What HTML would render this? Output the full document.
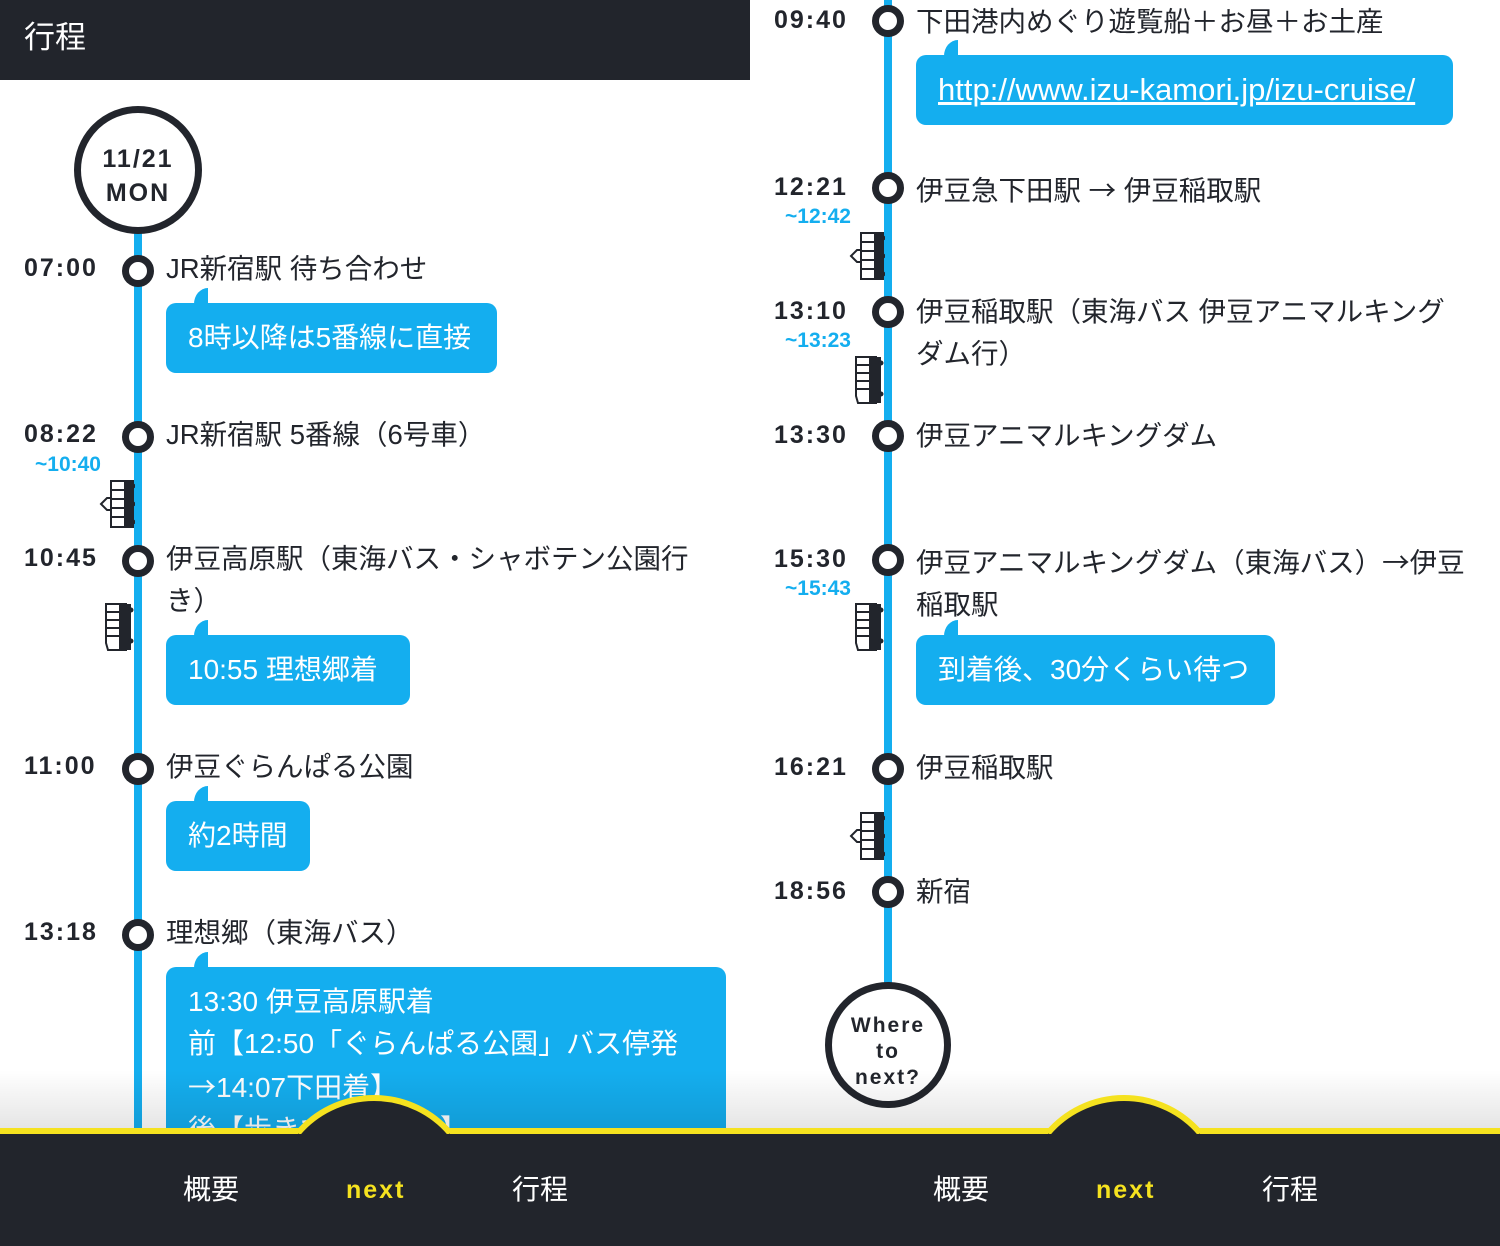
<!DOCTYPE html>
<html><head><meta charset="utf-8"><style>
*{margin:0;padding:0}
body{width:1500px;height:1246px;position:relative;overflow:hidden;background:#fff;font-family:"Liberation Sans","Noto Sans CJK JP",sans-serif;color:#22252c}
.a{position:absolute}
.j{font-family:"Noto Sans CJK JP",sans-serif}
.line{position:absolute;width:8px;background:#14aeef}
.n{position:absolute;width:32px;height:32px;border:7px solid #22252c;border-radius:50%;background:#fff;box-sizing:border-box}
.t{position:absolute;font-weight:bold;font-size:25px;letter-spacing:2px;line-height:30px}
.s{position:absolute;font-weight:bold;font-size:21px;color:#14aeef;line-height:24px}
.l{position:absolute;font-size:27.5px;line-height:42px;white-space:nowrap;color:#22252c}
.b{position:absolute;background:#14aeef;border-radius:10px;color:#fff;font-size:28px;line-height:42px;padding:14px 22px;box-sizing:border-box;white-space:nowrap;overflow:hidden}
.tail{position:absolute;width:14px;height:16px;background:#14aeef;border-top-left-radius:14px 16px}
.c{position:absolute;border:7px solid #22252c;border-radius:50%;background:#fff;box-sizing:border-box;text-align:center;font-weight:bold;letter-spacing:2px}
.nav{position:absolute;top:1128px;width:750px;height:118px;background:#22252c;border-top:6px solid #f5e21f;box-sizing:border-box}
.ni{position:absolute;top:1172px;font-size:28px;color:#fff;line-height:36px}
.nx{position:absolute;top:1172px;font-size:25px;color:#f5e21f;font-weight:bold;letter-spacing:2px;line-height:36px}
.sh{position:absolute;top:1070px;height:58px;width:750px;background:linear-gradient(rgba(0,0,0,0),rgba(0,0,0,0.10))}
</style></head><body>
<svg width="0" height="0" style="position:absolute"><defs>
<symbol id="tr" viewBox="0 0 36 48"><path d="M2 24 L8 18 L12 18 L12 30 L8 30 Z" fill="#fff" stroke="#22252c" stroke-width="2"/><rect x="12" y="1" width="22" height="46" fill="#fff" stroke="#22252c" stroke-width="2"/><rect x="25" y="1" width="9" height="46" fill="#22252c"/><path d="M12 10H25M12 19H25M12 28H25M12 37H25" stroke="#22252c" stroke-width="2"/><circle cx="34" cy="6" r="2.5" fill="#22252c"/><circle cx="34" cy="24" r="2.5" fill="#22252c"/><circle cx="34" cy="42" r="2.5" fill="#22252c"/></symbol>
<symbol id="bu" viewBox="0 0 30 48"><path d="M2 1 H22 V47 H4 L2 40 Z" fill="#fff" stroke="#22252c" stroke-width="2"/><rect x="15" y="1" width="12" height="46" fill="#22252c"/><path d="M2 9H15M2 17H15M2 25H15M2 33H15" stroke="#22252c" stroke-width="2"/><circle cx="27" cy="7" r="2.5" fill="#22252c"/><circle cx="27" cy="38" r="2.5" fill="#22252c"/></symbol>
</defs></svg>

<!-- LEFT PANEL -->
<div class="a" style="left:0;top:0;width:750px;height:80px;background:#22252c"></div>
<div class="a" style="left:24px;top:19px;font-size:31px;color:#fff;line-height:38px">行程</div>
<div class="line" style="left:134px;top:230px;height:900px"></div>
<div class="c" style="left:74px;top:106px;width:128px;height:128px;font-size:25px;line-height:34px;padding-top:29px">11/21<br>MON</div>

<div class="t" style="left:24px;top:253px">07:00</div><div class="n" style="left:122px;top:255px"></div>
<div class="l" style="left:166px;top:248px">JR新宿駅 待ち合わせ</div>
<div class="tail" style="left:194px;top:288px"></div>
<div class="b" style="left:166px;top:303px;width:331px;height:70px">8時以降は5番線に直接</div>

<div class="t" style="left:24px;top:419px">08:22</div><div class="n" style="left:122px;top:421px"></div>
<div class="s" style="left:35px;top:453px">~10:40</div>
<div class="l" style="left:166px;top:414px">JR新宿駅 5番線（6号車）</div>
<svg class="a" style="left:99px;top:480px" width="36" height="48"><use href="#tr"/></svg>

<div class="t" style="left:24px;top:543px">10:45</div><div class="n" style="left:122px;top:545px"></div>
<div class="l" style="left:166px;top:538px">伊豆高原駅（東海バス・シャボテン公園行<br>き）</div>
<svg class="a" style="left:104px;top:603px" width="30" height="48"><use href="#bu"/></svg>
<div class="tail" style="left:194px;top:620px"></div>
<div class="b" style="left:166px;top:635px;width:244px;height:70px">10:55 理想郷着</div>

<div class="t" style="left:24px;top:751px">11:00</div><div class="n" style="left:122px;top:753px"></div>
<div class="l" style="left:166px;top:746px">伊豆ぐらんぱる公園</div>
<div class="tail" style="left:194px;top:786px"></div>
<div class="b" style="left:166px;top:801px;width:144px;height:70px">約2時間</div>

<div class="t" style="left:24px;top:917px">13:18</div><div class="n" style="left:122px;top:919px"></div>
<div class="l" style="left:166px;top:912px">理想郷（東海バス）</div>
<div class="tail" style="left:194px;top:952px"></div>
<div class="b" style="left:166px;top:967px;width:560px;height:200px">13:30 伊豆高原駅着<br>前【12:50「ぐらんぱる公園」バス停発<br><span class="j">→</span>14:07下田着】<br>後【歩きで…下田着】</div>

<div class="sh" style="left:0"></div>
<div class="nav" style="left:0"></div>
<svg class="a" style="left:0;top:1090px" width="750" height="60"><path d="M298,44 A100,100 0 0 1 450,44 Z" fill="#22252c"/><path d="M298,43 A100,100 0 0 1 450,43" fill="none" stroke="#f5e21f" stroke-width="6"/><rect x="296" y="44" width="156" height="16" fill="#22252c"/></svg>
<div class="ni" style="left:183px">概要</div>
<div class="nx" style="left:346px">next</div>
<div class="ni" style="left:512px">行程</div>

<!-- RIGHT PANEL -->
<div class="line" style="left:884px;top:0;height:986px"></div>

<div class="t" style="left:774px;top:5px">09:40</div><div class="n" style="left:872px;top:5px"></div>
<div class="l" style="left:916px;top:1px">下田港内めぐり遊覧船＋お昼＋お土産</div>
<div class="tail" style="left:944px;top:40px"></div>
<div class="b" style="left:916px;top:55px;width:537px;height:70px;text-decoration:underline;font-size:31px">http://www.izu-kamori.jp/izu-cruise/</div>

<div class="t" style="left:774px;top:172px">12:21</div><div class="n" style="left:872px;top:172px"></div>
<div class="s" style="left:785px;top:205px">~12:42</div>
<div class="l" style="left:916px;top:167px">伊豆急下田駅 <span class="j">→</span> 伊豆稲取駅</div>
<svg class="a" style="left:849px;top:232px" width="36" height="48"><use href="#tr"/></svg>

<div class="t" style="left:774px;top:296px">13:10</div><div class="n" style="left:872px;top:296px"></div>
<div class="s" style="left:785px;top:329px">~13:23</div>
<div class="l" style="left:916px;top:291px">伊豆稲取駅（東海バス 伊豆アニマルキング<br>ダム行）</div>
<svg class="a" style="left:854px;top:356px" width="30" height="48"><use href="#bu"/></svg>

<div class="t" style="left:774px;top:420px">13:30</div><div class="n" style="left:872px;top:420px"></div>
<div class="l" style="left:916px;top:415px">伊豆アニマルキングダム</div>

<div class="t" style="left:774px;top:544px">15:30</div><div class="n" style="left:872px;top:544px"></div>
<div class="s" style="left:785px;top:577px">~15:43</div>
<div class="l" style="left:916px;top:539px">伊豆アニマルキングダム（東海バス）<span class="j">→</span>伊豆<br>稲取駅</div>
<svg class="a" style="left:854px;top:603px" width="30" height="48"><use href="#bu"/></svg>
<div class="tail" style="left:944px;top:620px"></div>
<div class="b" style="left:916px;top:635px;width:359px;height:70px">到着後、30分くらい待つ</div>

<div class="t" style="left:774px;top:752px">16:21</div><div class="n" style="left:872px;top:753px"></div>
<div class="l" style="left:916px;top:747px">伊豆稲取駅</div>
<svg class="a" style="left:849px;top:812px" width="36" height="48"><use href="#tr"/></svg>

<div class="t" style="left:774px;top:876px">18:56</div><div class="n" style="left:872px;top:876px"></div>
<div class="l" style="left:916px;top:871px">新宿</div>

<div class="c" style="left:825px;top:982px;width:126px;height:126px;font-size:21px;line-height:26px;padding-top:24px">Where<br>to<br>next?</div>

<div class="sh" style="left:750px"></div>
<div class="nav" style="left:750px"></div>
<svg class="a" style="left:750px;top:1090px" width="750" height="60"><path d="M298,44 A100,100 0 0 1 450,44 Z" fill="#22252c"/><path d="M298,43 A100,100 0 0 1 450,43" fill="none" stroke="#f5e21f" stroke-width="6"/><rect x="296" y="44" width="156" height="16" fill="#22252c"/></svg>
<div class="ni" style="left:933px">概要</div>
<div class="nx" style="left:1096px">next</div>
<div class="ni" style="left:1262px">行程</div>
</body></html>
